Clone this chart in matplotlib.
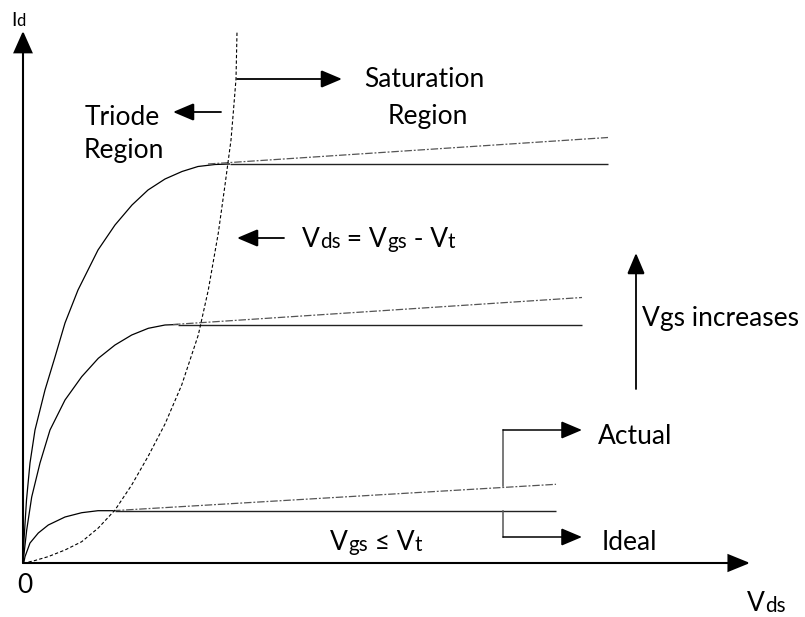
import matplotlib
matplotlib.use("Agg")
import matplotlib.pyplot as plt
from matplotlib.transforms import offset_copy

# ---------------- data (Vds, Id in drawing units, origin at 0,0) ----------------
top_triode_x = [0, 1, 3.5, 7, 12, 22, 32, 42, 55, 75, 92, 109, 125, 142, 159, 175, 192, 207]
top_triode_y = [0, 23, 63, 100, 133, 173, 206, 240, 273, 313, 338, 358, 373, 384, 391.5, 396.5, 398.5, 399]
mid_triode_x = [0, 3.7, 8.7, 17, 27, 42, 58.7, 75.3, 92, 108.7, 125.3, 142, 155]
mid_triode_y = [0, 33, 66, 100, 133, 163, 186.3, 204.7, 218, 228, 234.7, 238, 238.5]
low_triode_x = [0, 1, 2, 7, 15.3, 25.3, 42, 58.7, 75, 92]
low_triode_y = [0, 1.3, 6.3, 20, 30, 38, 46, 50.3, 52.3, 52.3]

sat_level = [399, 238.5, 52.3]          # ideal saturation current
sat_end_x = [585, 559, 533]              # end of the drawn curves
actual_start_x = [185, 150, 90]          # start of channel-length-modulated line
actual_end_y = [425.5, 265.5, 78.7]      # Id at end for actual curve

boundary_x = [0, 2, 12, 25, 42, 58.7, 75.3, 92, 108.7, 125.3, 142, 158.7, 175.3, 185.3,
              195.3, 202, 206, 208, 210.5, 213, 214]
boundary_y = [0, 0.1, 2.5, 6.3, 13, 21.3, 35, 53, 78, 107, 139, 178, 228, 273,
              330, 378, 408, 423, 453, 484, 531]

FONT = ["Lato", "DejaVu Sans"]
FS = 19

fig = plt.figure(figsize=(8.05, 6.17), dpi=100)
ax = fig.add_axes([0, 0, 1, 1])
ax.set_xlim(-23, 782)
ax.set_ylim(-54, 563)
ax.axis("off")

def arrow(tail, tip, lw=1.3, color="black", hl=1.3, hw=0.55, ms=10):
    ax.annotate("", xy=tip, xytext=tail,
                arrowprops=dict(arrowstyle=f"-|>,head_length={hl},head_width={hw}",
                                mutation_scale=ms, lw=lw, color=color,
                                shrinkA=0, shrinkB=0, joinstyle="miter"))

renderer = fig.canvas.get_renderer()

def rich(x, y, parts, size=FS, color="black", sub_scale=0.78, drop=0.05):
    dx = 0.0
    for s, sub in parts:
        fs = size * sub_scale if sub else size
        dy = -size * drop if sub else 0.0
        tr = offset_copy(ax.transData, fig=fig, x=dx, y=dy, units="points")
        t = ax.text(x, y, s, fontsize=fs, transform=tr, ha="left", va="baseline",
                    family=FONT, color=color)
        bb = t.get_window_extent(renderer=renderer)
        dx += bb.width * 72.0 / fig.dpi

# axes arrows
arrow((0, 0), (0, 532), lw=1.5, hl=1.35, hw=0.6)
arrow((0, 0), (727, 0), lw=1.5, hl=1.35, hw=0.55)

# curves
for tx, ty, lvl, xe, xa, ya in zip([top_triode_x, mid_triode_x, low_triode_x],
                                   [top_triode_y, mid_triode_y, low_triode_y],
                                   sat_level, sat_end_x, actual_start_x, actual_end_y):
    ax.plot(tx, ty, color="black", lw=0.9, solid_capstyle="butt", solid_joinstyle="round")
    ax.plot([tx[-1], xe], [lvl, lvl], color="#222222", lw=1.0, solid_capstyle="butt")
    ax.plot([xa, xe], [lvl, ya], color="#555555", lw=0.9,
            linestyle=(0, (6, 1.5, 1.5, 1.5)))

ax.plot(boundary_x, boundary_y, color="black", lw=0.8, linestyle=(0, (3, 2)))

# region arrows
arrow((198, 451), (150, 451))            # Triode
arrow((214, 484), (319, 484))            # Saturation
arrow((261, 325), (214, 325))            # Vds = Vgs - Vt
arrow((613, 174), (613, 310))            # Vgs increases

# actual / ideal brackets
ax.plot([480, 480], [77, 133], color="#555555", lw=1.1)
arrow((480, 133), (559, 133), color="black", lw=1.1)
ax.plot([480, 480], [52.3, 26], color="#555555", lw=1.1)
arrow((480, 26), (559, 26), color="black", lw=1.1)

# texts
rich(-12, 537, [("I", 0), ("d", 1)], size=14, sub_scale=0.85, drop=0.0)
rich(62, 438, [("Triode", 0)])
rich(61, 405, [("Region", 0)])
rich(341, 476, [("Saturation", 0)])
rich(365, 439, [("Region", 0)])
rich(279, 316, [("V", 0), ("ds", 1), (" = V", 0), ("gs", 1), (" - V", 0), ("t", 1)])
rich(619, 237, [("Vgs increases", 0)])
rich(575, 119, [("Actual", 0)])
rich(579, 13, [("Ideal", 0)])
rich(307, 13, [("V", 0), ("gs", 1), (" \u2264 V", 0), ("t", 1)])
rich(-6, -30, [("0", 0)])
rich(724, -48, [("V", 0), ("ds", 1)])

fig.savefig("out.png", dpi=100)
